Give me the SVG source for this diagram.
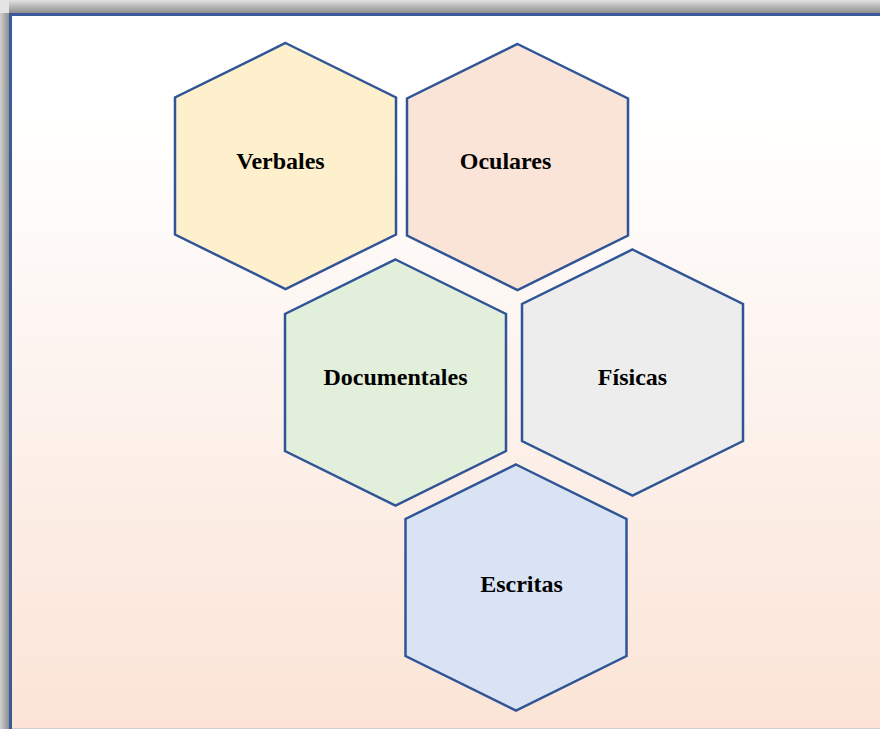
<svg xmlns="http://www.w3.org/2000/svg" width="880" height="729" viewBox="0 0 880 729">
  <defs>
    <linearGradient id="bg" x1="0" y1="15" x2="0" y2="729" gradientUnits="userSpaceOnUse">
      <stop offset="0" stop-color="#FFFFFF"/>
      <stop offset="0.2" stop-color="#FFFEFD"/>
      <stop offset="0.45" stop-color="#FDF5F1"/>
      <stop offset="1" stop-color="#FBE4D6"/>
    </linearGradient>
    <linearGradient id="shadowTop" x1="0" y1="0" x2="0" y2="13" gradientUnits="userSpaceOnUse">
      <stop offset="0" stop-color="#E2E2E2"/>
      <stop offset="1" stop-color="#8E8E8E"/>
    </linearGradient>
    <linearGradient id="shadowLeft" x1="0" y1="0" x2="9" y2="0" gradientUnits="userSpaceOnUse">
      <stop offset="0" stop-color="#D0D0D0"/>
      <stop offset="1" stop-color="#8E8E8E"/>
    </linearGradient>
    <polygon id="hex" points="0,-123 110.5,-68.5 110.5,68.5 0,123 -110.5,68.5 -110.5,-68.5"/>
  </defs>
  <style>
    .hex { stroke: #2F5597; stroke-width: 2.5; stroke-linejoin: miter; }
    .label { font-family: "Liberation Serif", "Times New Roman", serif; font-weight: bold; font-size: 24px; fill: #000000; text-anchor: middle; }
  </style>

  <!-- page background and frame -->
  <rect x="0" y="0" width="880" height="729" fill="#FFFFFF"/>
  <rect x="0" y="0" width="880" height="13" fill="url(#shadowTop)"/>
  <rect x="0" y="0" width="9" height="729" fill="url(#shadowLeft)"/>
  <rect x="0" y="0" width="9" height="13" fill="#E4E4E4"/>
  <rect x="10" y="14" width="870" height="715" fill="url(#bg)"/>
  <path d="M10.5,729 V14.5 H880" fill="none" stroke="#3A5A9A" stroke-width="3"/>
  <line x1="12" y1="728.5" x2="880" y2="728.5" stroke="#CFCFCF" stroke-width="1"/>

  <g id="verbales">
    <use href="#hex" x="285.5" y="166" class="hex" fill="#FFF0CD"/>
    <text class="label" x="280.5" y="169">Verbales</text>
  </g>

  <g id="oculares">
    <use href="#hex" x="517.5" y="167" class="hex" fill="#F9E4D7"/>
    <text class="label" x="505.5" y="168.5">Oculares</text>
  </g>

  <g id="documentales">
    <use href="#hex" x="395.5" y="382.5" class="hex" fill="#E2EFDA"/>
    <text class="label" x="395.5" y="385">Documentales</text>
  </g>

  <g id="fisicas">
    <use href="#hex" x="632.5" y="372.5" class="hex" fill="#EDEDED"/>
    <text class="label" x="632.5" y="385">Físicas</text>
  </g>

  <g id="escritas">
    <use href="#hex" x="516" y="587.5" class="hex" fill="#DAE3F3"/>
    <text class="label" x="521.5" y="592">Escritas</text>
  </g>

  <g id="connectors"/>
</svg>
